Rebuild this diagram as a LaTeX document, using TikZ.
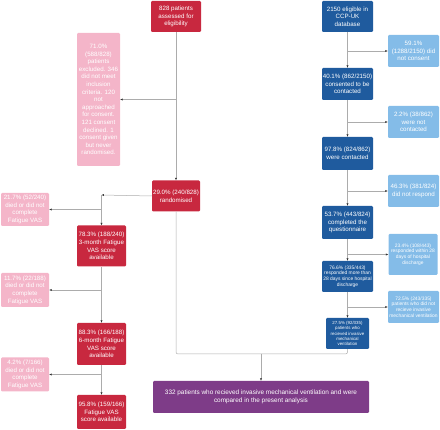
\documentclass[tikz,border=0pt]{standalone}
\usepackage{fontspec}
\setmainfont{Liberation Sans}
\usetikzlibrary{arrows.meta}
\definecolor{trialred}{HTML}{C8283F}
\definecolor{trialpink}{HTML}{F4B5C9}
\definecolor{ccpblue}{HTML}{1F5B9E}
\definecolor{ccplight}{HTML}{84BCE8}
\definecolor{finalpurple}{HTML}{7E3C88}
\begin{document}
\begin{tikzpicture}[x=1pt, y=-1pt,
  box/.style={rectangle, rounded corners=1.2pt, inner sep=0pt, align=center, text=white,
    font=\fontsize{6.2}{7.6}\selectfont},
  redbox/.style={box, fill=trialred},
  pinkbox/.style={box, fill=trialpink},
  bluebox/.style={box, fill=ccpblue},
  lightbox/.style={box, fill=ccplight},
  small/.style={font=\fontsize{4.9}{5.8}\selectfont},
  tiny/.style={font=\fontsize{4.4}{5.1}\selectfont},
  link/.style={draw=gray!65, line width=0.5pt},
  arr/.style={link, -{Latex[length=2.4pt, width=2.2pt, color=black!80]}}]

\useasboundingbox (0,0) rectangle (440,430);

\node[redbox, minimum width=50pt, minimum height=31pt] (elig) at (176,16.5) {828 patients\\assessed for\\eligibility};
\node[pinkbox, minimum width=43pt, minimum height=133pt] (excl) at (98.5,99.5) {71.0\%\\(588/828)\\patients\\excluded. 346\\did not meet\\inclusion\\criteria. 120\\not\\approached\\for consent.\\121 consent\\declined. 1\\consent given\\but never\\randomised.};
\node[redbox, minimum width=48pt, minimum height=31pt] (rand) at (176,196) {29.0\% (240/828)\\randomised};

\node[redbox, minimum width=49pt, minimum height=41pt] (m3) at (101.5,246) {78.3\% (188/240)\\3-month Fatigue\\VAS score\\available};
\node[redbox, minimum width=49pt, minimum height=42pt] (m6) at (101.5,344) {88.3\% (166/188)\\6-month Fatigue\\VAS score\\available};
\node[redbox, minimum width=49pt, minimum height=34pt] (m12) at (101.5,412) {95.8\% (159/166)\\Fatigue VAS\\score available};

\node[pinkbox, minimum width=48pt, minimum height=33pt] (d1) at (25,209.5) {21.7\% (52/240)\\died or did not\\complete\\Fatigue VAS};
\node[pinkbox, minimum width=48pt, minimum height=34pt] (d2) at (25,290) {11.7\% (22/188)\\died or did not\\complete\\Fatigue VAS};
\node[pinkbox, minimum width=48pt, minimum height=34pt] (d3) at (25,374.5) {4.2\% (7/166)\\died or did not\\complete\\Fatigue VAS};

\node[bluebox, minimum width=51pt, minimum height=31pt] (ccp) at (347.5,16.5) {2150 eligible in\\CCP-UK\\database};
\node[bluebox, minimum width=51pt, minimum height=32pt] (cons) at (347.5,84) {40.1\% (862/2150)\\consented to be\\contacted};
\node[bluebox, minimum width=51pt, minimum height=33pt] (cont) at (347.5,153.5) {97.8\% (824/862)\\were contacted};
\node[bluebox, minimum width=51pt, minimum height=33pt] (quest) at (347.5,222.5) {53.7\% (443/824)\\completed the\\questionnaire};
\node[bluebox, small, minimum width=51pt, minimum height=31pt] (late) at (347.5,276.5) {76.6\% (335/443)\\responded more than\\28 days since hospital\\discharge};
\node[bluebox, tiny, minimum width=43pt, minimum height=31pt] (imv) at (347.5,333.5) {27.5\% (92/335)\\patients who\\recieved invasive\\mechanical\\ventilation};

\node[lightbox, minimum width=51pt, minimum height=32pt] (nocons) at (413.5,51) {59.1\%\\(1288/2150) did\\not consent};
\node[lightbox, minimum width=51pt, minimum height=32pt] (nocont) at (413.5,122) {2.2\% (38/862)\\were not\\contacted};
\node[lightbox, minimum width=51pt, minimum height=32pt] (noresp) at (413.5,191) {46.3\% (381/824)\\did not respond};
\node[lightbox, small, minimum width=49pt, minimum height=41pt] (early) at (413,254.5) {23.4\% (108/443)\\responded within 28\\days of hospital\\discharge};
\node[lightbox, small, minimum width=51pt, minimum height=32pt] (noimv) at (413.5,307) {72.5\% (243/335)\\patients who did not\\recieve invasive\\mechanical ventilation};

\node[box, fill=finalpurple, font=\fontsize{6.4}{8.3}\selectfont, minimum width=216pt, minimum height=32pt] (final) at (261,397) {332 patients who recieved invasive mechanical ventilation and were\\compared in the present analysis};

\coordinate (split) at (101.5,195);
\coordinate (join) at (261,354);

\draw[arr] (elig) -- (rand);
\draw[arr] (elig.south |- excl) -- (excl.east);
\draw[arr, {Latex[length=2.4pt, width=2.2pt, color=black!80]}-] (split) -- (rand.west);
\draw[arr] (split) -- (m3);
\draw[arr] (m3) -- (m6);
\draw[arr] (m6) -- (m12);
\draw[arr] (split |- d1) -- (d1.east);
\draw[arr] (m3.south |- d2) -- (d2.east);
\draw[arr] (m6.south |- d3) -- (d3.east);

\draw[arr] (ccp) -- (cons);
\draw[arr] (cons) -- (cont);
\draw[arr] (cont) -- (quest);
\draw[arr] (quest) -- (late);
\draw[arr] (late) -- (imv);
\draw[arr] (ccp.south |- nocons) -- (nocons.west);
\draw[arr] (cons.south |- nocont) -- (nocont.west);
\draw[arr] (cont.south |- noresp) -- (noresp.west);
\draw[arr] (quest.south |- early) -- (early.west);
\draw[arr] (late.south |- noimv) -- (noimv.west);

\draw[link, rounded corners=2pt] (rand.south) |- (join);
\draw[link, rounded corners=2pt] (imv.south) |- (join);
\draw[arr] (join) -- (final.north);
\end{tikzpicture}
\end{document}
